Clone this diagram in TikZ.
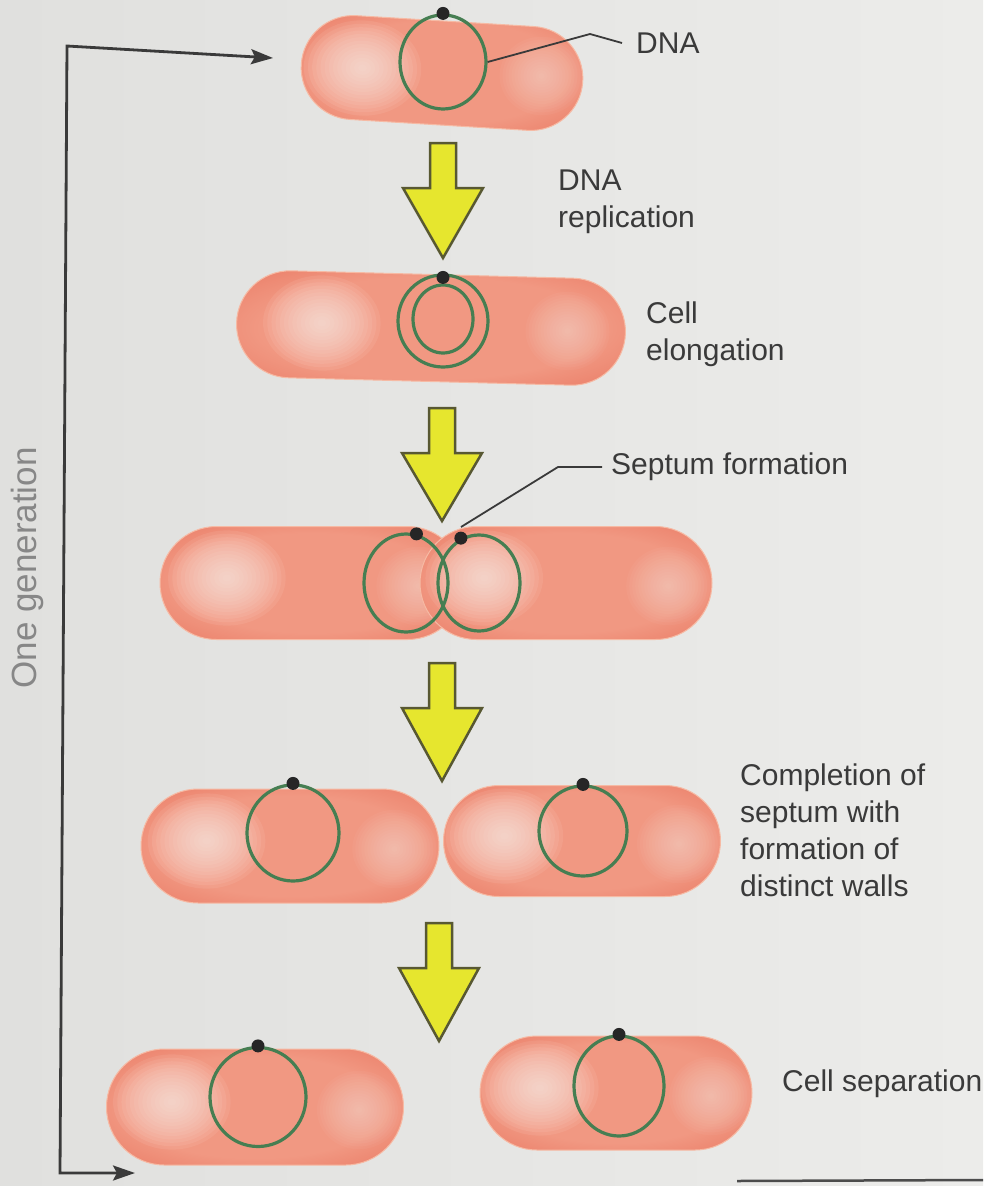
\documentclass[tikz,border=0pt]{standalone}
\usepackage{fontspec}
\setmainfont{Liberation Sans}
\usetikzlibrary{shapes.misc, shapes.geometric, arrows.meta, calc}

\definecolor{paper}{RGB}{236,236,234}
\definecolor{paperdark}{RGB}{224,224,222}
\definecolor{cellhi}{RGB}{254,236,228}
\definecolor{cellmid}{RGB}{241,152,130}
\definecolor{cellshade}{RGB}{233,120,98}
\definecolor{celledge}{RGB}{216,88,68}
\definecolor{cellrim}{RGB}{246,186,164}
\definecolor{dnagreen}{RGB}{70,126,82}
\definecolor{flowyellow}{RGB}{230,230,46}
\definecolor{flowedge}{RGB}{88,88,50}
\definecolor{textgray}{RGB}{58,58,58}
\definecolor{lightgray}{RGB}{135,135,135}

% body colour, darker towards the rim
\pgfdeclareradialshading{cellbase}{\pgfpointorigin}{%
  color(0bp)=(cellmid); color(22bp)=(cellmid); color(38bp)=(cellshade);
  color(50bp)=(celledge); color(90bp)=(celledge)}

\begin{document}
\begin{tikzpicture}[x=1pt, y=-1pt,
    cellbody/.style={rounded rectangle, shade, shading=cellbase, draw=cellrim,
      line width=1pt, inner sep=0pt,
      path picture={
        % two soft light spots, built up from faint layers
        \coordinate (hl) at ($(path picture bounding box.west)!0.22!(path picture bounding box.east)+(0,-5)$);
        \coordinate (hr) at ($(path picture bounding box.west)!0.85!(path picture bounding box.east)+(0,3)$);
        \foreach \k in {1,...,14}{
          \fill[cellhi, fill opacity=0.09] (hl) ellipse [x radius=\k*4.2pt, y radius=\k*3.4pt];
          \fill[cellhi, fill opacity=0.045] (hr) ellipse [x radius=\k*3pt, y radius=\k*2.8pt];
        }}},
    dna/.style={ellipse, draw=dnagreen, line width=3.2pt, inner sep=0pt},
    oridot/.style={circle, fill=black!85, inner sep=0pt, minimum size=13pt},
    flowarrow/.style={fill=flowyellow, draw=flowedge, line width=2.5pt, line join=miter},
    notetext/.style={text=textgray, font=\fontsize{30}{37}\selectfont, align=left,
      anchor=west, inner sep=0pt},
    leader/.style={draw=textgray, line width=1.8pt},
    loopline/.style={draw=textgray, line width=2.8pt,
      {Stealth[length=22pt, width=15pt, inset=4pt]}-{Stealth[length=22pt, width=15pt, inset=4pt]}}]

    \useasboundingbox (0,0) rectangle (983,1186);
    \shade[left color=paperdark, right color=paper] (0,0) rectangle (983,1186);
    \draw[black!70, line width=2.5pt] (737,1181) -- (983,1180);

    % Parent cell
    \node[cellbody, minimum width=282pt, minimum height=104pt, rotate=-3.5] (c1) at (442,73) {};
    \node[dna, minimum width=86pt, minimum height=94pt] (dna1) at (443,62) {};
    \node[oridot] (ori1) at (dna1.north) {};
    \node[notetext] (dnalbl) at (636,43) {DNA};
    \draw[leader] (dna1.east) -- (590,34) -- ([xshift=-14pt]dnalbl.west);

    % Replication
    \filldraw[flowarrow] (430,143) -- ++(26,0) -- ++(0,45) -- ++(27,0) -- ++(-40,70)
      -- ++(-40,-70) -- ++(27,0) -- cycle;
    \node[notetext] (replbl) at (558,202) {DNA\\replication};

    % Elongation
    \node[cellbody, minimum width=389pt, minimum height=107pt, rotate=-1.5] (c2) at (431,328) {};
    \node[dna, minimum width=90pt, minimum height=92pt] (dna2a) at (443,321) {};
    \node[dna, minimum width=60pt, minimum height=68pt] (dna2b) at (443,319) {};
    \node[oridot] (ori2) at ([yshift=-4pt]dna2a.north) {};
    \node[notetext] (elonglbl) at (646,334) {Cell\\elongation};

    % Septum
    \filldraw[flowarrow] (429,408) -- ++(26,0) -- ++(0,45) -- ++(27,0) -- ++(-40,68)
      -- ++(-40,-68) -- ++(27,0) -- cycle;
    \node[cellbody, minimum width=304pt, minimum height=113pt] (c3a) at (312,583) {};
    \node[cellbody, minimum width=292pt, minimum height=113pt] (c3b) at (566,583) {};
    \node[dna, minimum width=84pt, minimum height=98pt] (dna3a) at (406,583) {};
    \node[dna, minimum width=82pt, minimum height=96pt] (dna3b) at (479,583) {};
    \node[oridot] (ori3a) at (dna3a.78) {};
    \node[oridot] (ori3b) at (dna3b.112) {};
    \node[notetext] (septlbl) at (611,467) {Septum formation};
    \coordinate (septum) at (461,527);
    \draw[leader] (septum) -- (558,467) -- ([xshift=-9pt]septlbl.west);

    % Two walls
    \filldraw[flowarrow] (429,663) -- ++(26,0) -- ++(0,45) -- ++(27,0) -- ++(-40,73)
      -- ++(-40,-73) -- ++(27,0) -- cycle;
    \node[cellbody, minimum width=298pt, minimum height=114pt] (c4a) at (290,846) {};
    \node[cellbody, minimum width=277pt, minimum height=111pt] (c4b) at (582,841) {};
    \node[dna, minimum width=92pt, minimum height=96pt] (dna4a) at (293,833) {};
    \node[dna, minimum width=88pt, minimum height=90pt] (dna4b) at (583,831) {};
    \node[oridot] (ori4a) at (dna4a.north) {};
    \node[oridot] (ori4b) at (dna4b.north) {};
    \node[notetext] (walllbl) at (740,830) {Completion of\\septum with\\formation of\\distinct walls};

    % Separation
    \filldraw[flowarrow] (426,923) -- ++(26,0) -- ++(0,45) -- ++(27,0) -- ++(-40,73)
      -- ++(-40,-73) -- ++(27,0) -- cycle;
    \node[cellbody, minimum width=297pt, minimum height=116pt] (c5a) at (255,1107) {};
    \node[cellbody, minimum width=272pt, minimum height=114pt] (c5b) at (616,1093) {};
    \node[dna, minimum width=96pt, minimum height=99pt] (dna5a) at (258,1097) {};
    \node[dna, minimum width=90pt, minimum height=100pt] (dna5b) at (619,1086) {};
    \node[oridot] (ori5a) at (dna5a.north) {};
    \node[oridot] (ori5b) at (dna5b.north) {};
    \node[notetext] (seplbl) at (782,1084) {Cell separation};

    % Generation loop
    \coordinate (loopend) at (135,1173);
    \coordinate (loopbl) at (60,1173);
    \coordinate (looptl) at (67,46);
    \coordinate (loopstart) at (273,58);
    \draw[loopline] (loopend) -- (loopbl) -- (looptl) -- (loopstart);
    \node[text=lightgray, font=\fontsize{35}{40}\selectfont, inner sep=0pt, rotate=90]
      (genlbl) at (27,568) {One generation};
\end{tikzpicture}
\end{document}
